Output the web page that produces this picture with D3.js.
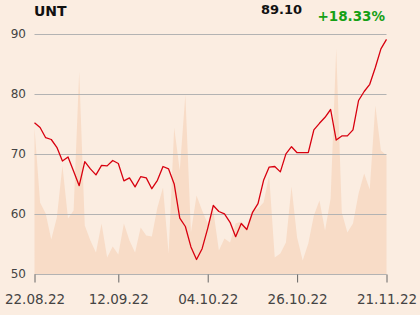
<!DOCTYPE html>
<html>
<head>
<meta charset="utf-8">
<script src="https://cdn.jsdelivr.net/npm/d3@7"></script>
<style>
  body { margin: 0; background: #fbede1; }
  svg { display: block; font-family: 'DejaVu Sans', sans-serif; }
</style>
</head>
<body>
<svg width="420" height="315"></svg>
<script>
// closing prices, one per trading day
var prices = [
  75.3, 74.5, 72.8, 72.5, 71.2, 68.9, 69.6, 67.2, 64.8, 68.8,
  67.6, 66.6, 68.2, 68.1, 69.0, 68.5, 65.6, 66.1, 64.6, 66.3,
  66.1, 64.3, 65.7, 68.0, 67.6, 65.1, 59.4, 58.0, 54.6, 52.5,
  54.3, 57.7, 61.5, 60.5, 60.1, 58.7, 56.3, 58.5, 57.5, 60.3,
  61.8, 65.7, 67.9, 68.0, 67.1, 70.1, 71.3, 70.3, 70.3, 70.3,
  74.1, 75.2, 76.2, 77.5, 72.4, 73.1, 73.1, 74.1, 79.0, 80.5,
  81.7, 84.5, 87.6, 89.2
]

// traded volume (thousands)
var volumes = [
  1470, 720, 610, 350, 570, 1090, 560, 640, 2030, 490,
  340, 220, 510, 170, 280, 200, 510, 340, 220, 470,
  390, 380, 670, 870, 210, 1470, 1040, 1800, 420, 790,
  640, 510, 640, 240, 360, 320, 510, 530, 460, 640,
  660, 720, 990, 170, 210, 320, 880, 370, 140, 310,
  590, 740, 440, 760, 2260, 620, 420, 510, 810, 1010,
  850, 1690, 1240, 1190
]

var tickDays = [0, 15, 31, 47, 63]
var tickLabels = ['22.08.22', '12.09.22', '04.10.22', '26.10.22', '21.11.22']
var yTicks = [50, 60, 70, 80, 90]

var ticker = 'UNT'
var lastPrice = '89.10'
var change = '+18.33%'

var svg = d3.select('svg')

var x = d3.scaleLinear().domain([0, prices.length - 1]).range([34.5, 386.5])
var y = d3.scaleLinear().domain([50, 90]).range([274.5, 34.5])
var yVol = d3.scaleLinear().domain([0, 2400]).range([274.5, 34.5])

// volume area in the background
var volArea = d3.area()
  .x((d, i) => x(i))
  .y0(y(50))
  .y1(d => yVol(d))

svg.append('path')
  .datum(volumes)
  .attr('d', volArea)
  .attr('fill', '#f8dcc7')

// horizontal grid
svg.append('g')
  .selectAll('line')
  .data(yTicks)
  .join('line')
  .attr('x1', x(0))
  .attr('x2', x(prices.length - 1))
  .attr('y1', d => y(d))
  .attr('y2', d => y(d))
  .attr('stroke', '#b3b3b3')
  .attr('stroke-width', 1)

svg.append('g')
  .selectAll('text')
  .data(yTicks)
  .join('text')
  .attr('x', 26)
  .attr('y', d => y(d))
  .attr('dy', '0.32em')
  .attr('text-anchor', 'end')
  .attr('font-size', 12)
  .attr('fill', '#444')
  .text(d => d)

// x axis
var xAxis = d3.axisBottom(x)
  .tickValues(tickDays)
  .tickFormat((d, i) => tickLabels[i])
  .tickSize(8)
  .tickPadding(12)

var gx = svg.append('g')
  .attr('transform', 'translate(0,' + y(50) + ')')
  .call(xAxis)
gx.select('.domain').remove()
gx.selectAll('line').attr('stroke', '#666')
gx.selectAll('text')
  .attr('font-size', 13.5)
  .attr('font-family', 'DejaVu Sans')
  .attr('fill', '#444')

// price line
var line = d3.line()
  .x((d, i) => x(i))
  .y(d => y(d))

svg.append('path')
  .datum(prices)
  .attr('d', line)
  .attr('fill', 'none')
  .attr('stroke', '#d8000f')
  .attr('stroke-width', 1.3)
  .attr('stroke-linejoin', 'round')

// header
svg.append('text')
  .attr('x', 34)
  .attr('y', 16)
  .attr('font-size', 14)
  .attr('font-weight', 'bold')
  .attr('fill', '#111')
  .text(ticker)

svg.append('text')
  .attr('x', 302)
  .attr('y', 14)
  .attr('text-anchor', 'end')
  .attr('font-size', 13)
  .attr('font-weight', 'bold')
  .attr('fill', '#111')
  .text(lastPrice)

svg.append('text')
  .attr('x', 385)
  .attr('y', 21)
  .attr('text-anchor', 'end')
  .attr('font-size', 13.5)
  .attr('font-weight', 'bold')
  .attr('fill', '#16a016')
  .text(change)
</script>
</body>
</html>
